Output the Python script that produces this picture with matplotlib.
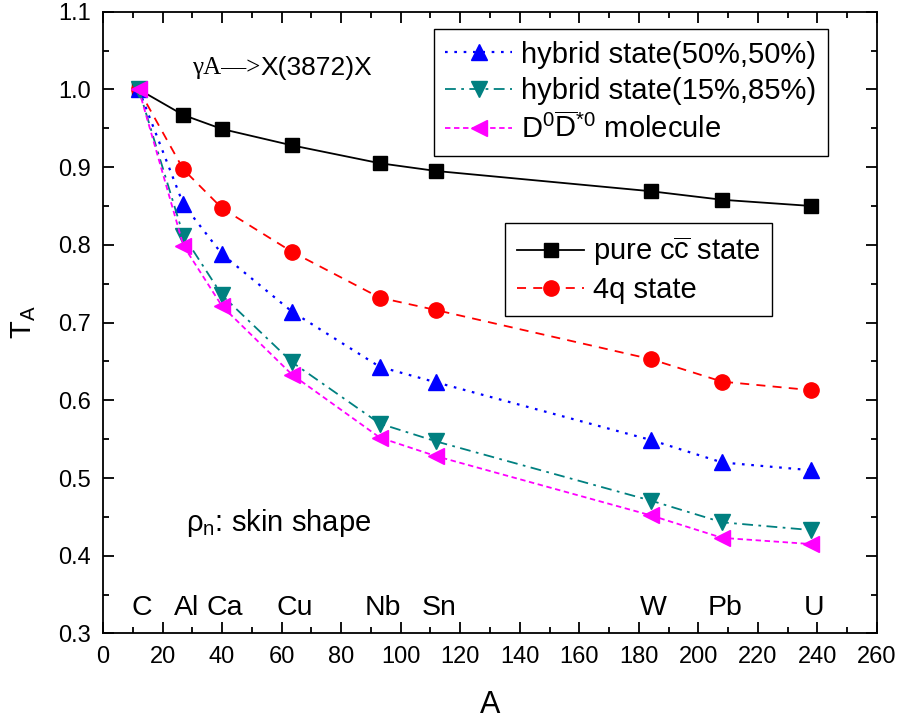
import matplotlib
matplotlib.use("Agg")
import matplotlib.pyplot as plt
from matplotlib.ticker import MultipleLocator

plt.rcParams['font.family'] = ['Liberation Sans', 'DejaVu Sans']
plt.rcParams['mathtext.fontset'] = 'custom'
plt.rcParams['mathtext.rm'] = 'Liberation Sans'
plt.rcParams['mathtext.it'] = 'Liberation Sans:italic'

# nuclei and mass numbers
elements = ['C', 'Al', 'Ca', 'Cu', 'Nb', 'Sn', 'W', 'Pb', 'U']
mass_A = [12, 27, 40, 63.5, 93, 112, 184, 208, 238]

# transparency T_A for each scenario
t_pure = [1.0, 0.967, 0.949, 0.928, 0.905, 0.895, 0.869, 0.858, 0.850]
t_4q = [1.0, 0.897, 0.847, 0.791, 0.732, 0.716, 0.653, 0.624, 0.613]
t_hyb50 = [1.0, 0.852, 0.788, 0.714, 0.643, 0.623, 0.549, 0.520, 0.510]
t_hyb15 = [1.0, 0.812, 0.735, 0.649, 0.570, 0.547, 0.471, 0.443, 0.433]
t_mol = [1.0, 0.799, 0.721, 0.633, 0.552, 0.528, 0.452, 0.423, 0.415]

fig = plt.figure(figsize=(8.99, 7.21), dpi=100)
ax = fig.add_axes([0.1146, 0.1214, 0.8609, 0.8624])

l_pure, = ax.plot(mass_A, t_pure, color='black', ls='-', lw=1.3,
                  marker='s', ms=10, label=r'pure c$\overline{\mathrm{c}}$ state')
l_4q, = ax.plot(mass_A, t_4q, color='red', ls=(0, (5, 4)), lw=1.3,
                marker='o', ms=11, label='4q state')
l_h50, = ax.plot(mass_A, t_hyb50, color='blue', ls=(0, (1.2, 3)), lw=1.6,
                 marker='^', ms=12, label='hybrid state(50%,50%)')
l_h15, = ax.plot(mass_A, t_hyb15, color='#008080', ls=(0, (6, 3, 1.5, 3)), lw=1.3,
                 marker='v', ms=12, label='hybrid state(15%,85%)')
l_mol, = ax.plot(mass_A, t_mol, color='magenta', ls=(0, (3, 2)), lw=1.3,
                 marker='<', ms=12, label=r'D$^0\overline{\mathrm{D}}^{*0}$ molecule')

ax.set_xlim(0, 260)
ax.set_ylim(0.3, 1.1)
ax.xaxis.set_major_locator(MultipleLocator(20))
ax.xaxis.set_minor_locator(MultipleLocator(10))
ax.yaxis.set_major_locator(MultipleLocator(0.1))
ax.yaxis.set_minor_locator(MultipleLocator(0.05))
ax.tick_params(which='both', direction='in', top=True, right=True, width=1.3,
               labelsize=17, pad=9)
ax.tick_params(which='major', length=8)
ax.tick_params(which='minor', length=4.5)
for s in ax.spines.values():
    s.set_linewidth(1.3)

ax.set_xlabel('A', fontsize=22, labelpad=16)
ax.set_ylabel(r'T$_\mathrm{A}$', fontsize=21, labelpad=14)

for el, a in zip(elements, mass_A):
    ax.text(a + 1, 0.333, el, fontsize=20.5, ha='center', va='center')

t1 = ax.text(30, 1.028, 'γA—>', fontsize=18, family='Liberation Serif',
             ha='left', va='center')
ax.annotate('X(3872)X', xy=(1, 0.5), xycoords=t1, fontsize=19,
            ha='left', va='center')
ax.text(28, 0.442, 'ρ$_\\mathrm{n}$: skin shape', fontsize=21, ha='left', va='center')

leg_kw = dict(loc='upper right', bbox_transform=fig.transFigure, fontsize=21,
              fancybox=False, edgecolor='black', framealpha=1,
              handlelength=2.3, handletextpad=0.3, labelspacing=0.28,
              borderpad=0.4, borderaxespad=0)
leg1 = ax.legend(handles=[l_h50, l_h15, l_mol],
                 bbox_to_anchor=(828 / 899, 1 - 29 / 721), **leg_kw)
leg1.get_frame().set_linewidth(1.0)
ax.add_artist(leg1)
leg2 = ax.legend(handles=[l_pure, l_4q],
                 bbox_to_anchor=(772 / 899, 1 - 223 / 721), **leg_kw)
leg2.get_frame().set_linewidth(1.0)

fig.savefig('out.png', dpi=100)
